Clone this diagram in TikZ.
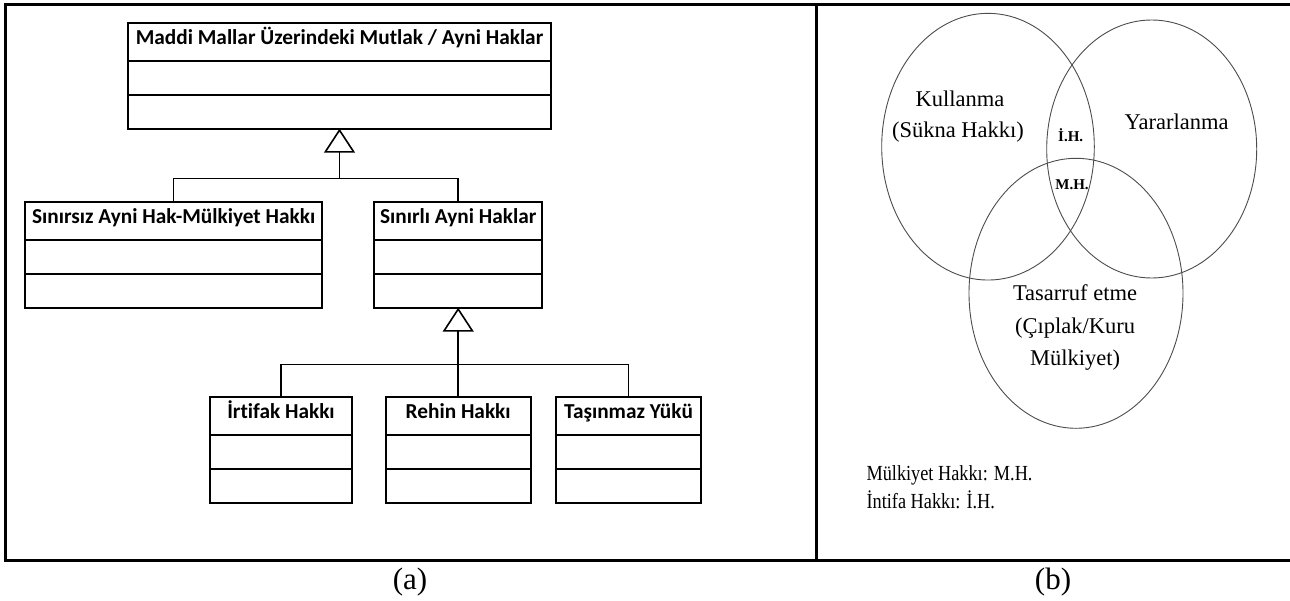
\documentclass[tikz,border=0pt]{standalone}
\usepackage{fontspec}
\setmainfont{Liberation Serif}
\newfontfamily\umlfont[Ligatures=NoCommon]{Carlito}
\usetikzlibrary{arrows.meta,shapes.geometric}

% one UML class: header with the name, then two empty compartments
\newcommand\umlclass[5]{%
  \node[hdr, minimum width=#4] (#1) at (#2,#3) {#5};
  \node[cmp, minimum width=#4] (#1-a) at (#1.south) {};
  \node[cmp, minimum width=#4] (#1-b) at (#1-a.south) {};
}

\begin{document}
\begin{tikzpicture}[x=1pt,y=-1pt,
  hdr/.style={draw, line width=2.2pt, outer sep=0pt, inner sep=0pt, anchor=north,
    minimum height=38pt, text height=0.644em, text depth=0pt,
    font=\umlfont\bfseries\fontsize{21.3}{25}\selectfont},
  cmp/.style={draw, line width=2.2pt, outer sep=0pt, inner sep=0pt, anchor=north,
    minimum height=34pt},
  link/.style={draw, line width=1.5pt},
  inherit/.style={link, -{Triangle[open, length=24pt, width=31pt, line width=1.6pt]}},
  frame/.style={line width=3pt, line cap=rect, line join=miter},
  vennset/.style={ellipse, draw=black!70, line width=0.9pt, inner sep=0pt},
  vtext/.style={anchor=base, font=\fontsize{22.5}{26}\selectfont},
  vbold/.style={anchor=base, font=\bfseries\fontsize{15}{17}\selectfont},
  legend/.style={anchor=base west, font=\fontsize{21.5}{24}\selectfont},
  caption/.style={font=\fontsize{31}{34}\selectfont}
]
\useasboundingbox (0,0) rectangle (1290,601);

% outer frame and divider
\draw[frame] (1290,5) -- (5,5) -- (5,560) -- (1290,560);
\draw[frame] (816.7,5) -- (816.7,560);

% (a) class hierarchy
\umlclass{top}{339.5}{22.7}{423pt}{Maddi Mallar Üzerindeki Mutlak / Ayni Haklar}
\umlclass{sinirsiz}{173.7}{201.7}{297pt}{Sınırsız Ayni Hak-Mülkiyet Hakkı}
\umlclass{sinirli}{458.2}{201.7}{168pt}{Sınırlı Ayni Haklar}
\umlclass{irtifak}{281}{396.7}{142pt}{İrtifak Hakkı}
\umlclass{rehin}{458.2}{396.7}{145pt}{Rehin Hakkı}
\umlclass{tasinmaz}{628.5}{396.7}{145pt}{Taşınmaz Yükü}

\coordinate (j1) at (339.5,178.3);
\draw[link] (sinirsiz.north) |- (j1) -| (sinirli.north);
\draw[inherit] (j1) -- (top-b.south);

\coordinate (j2) at (458.2,364.3);
\draw[link] (irtifak.north) |- (j2) -| (tasinmaz.north);
\draw[inherit] (rehin.north) -- (sinirli-b.south);

\node[caption] (capa) at (410,581.7) {(a)};

% (b) Venn diagram of the rights
\node[vennset, minimum width=212.6pt, minimum height=266.7pt] (kul) at (988,146.7) {};
\node[vennset, minimum width=210pt, minimum height=258pt] (yar) at (1151.7,149) {};
\node[vennset, minimum width=214pt, minimum height=270pt] (tas) at (1076,293.3) {};

\node[vtext] (t1) at (960,106.7) {Kullanma};
\node[vtext] (t2) at (958,137.5) {(Sükna Hakkı)};
\node[vtext] (t3) at (1176.7,129.3) {Yararlanma};
\node[vbold] (ih) at (1070.7,141.7) {İ.H.};
\node[vbold] (mh) at (1072,190) {M.H.};
\node[vtext] (t4) at (1075,301) {Tasarruf etme};
\node[vtext] (t5) at (1075,334) {(Çıplak/Kuru};
\node[vtext] (t6) at (1075,366) {Mülkiyet)};

\node[legend] (l1) at (863,480) {\scalebox{0.85}[1]{Mülkiyet Hakkı: M.H.}};
\node[legend] (l2) at (863,508.3) {\scalebox{0.85}[1]{İntifa Hakkı: İ.H.}};

\node[caption] (capb) at (1053,581.7) {(b)};
\end{tikzpicture}
\end{document}
